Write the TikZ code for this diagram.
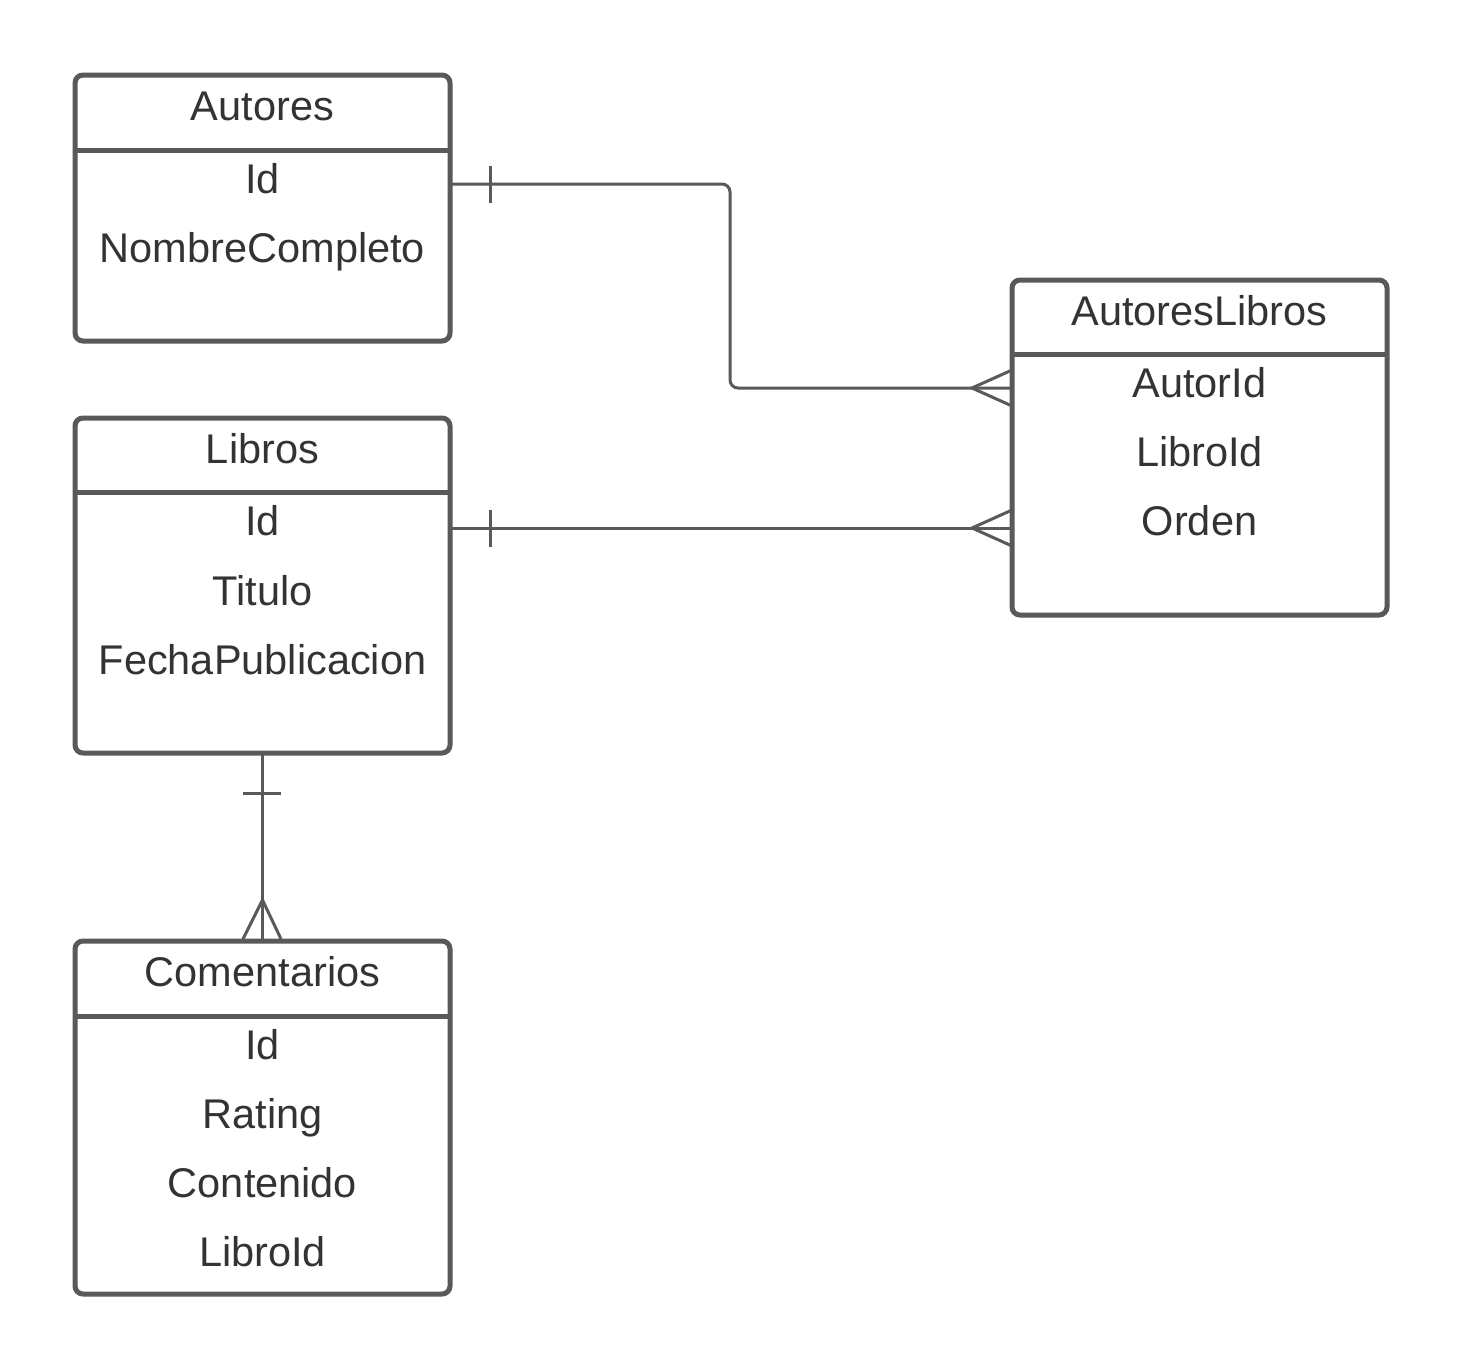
\documentclass[tikz,border=0pt]{standalone}
\usepackage{fontspec}
\setmainfont{Liberation Sans}
\definecolor{edge}{HTML}{595959}
\definecolor{txt}{HTML}{333333}
\begin{document}
\begin{tikzpicture}[x=1pt,y=-1pt,
  tbl/.style={draw=edge,line width=5pt,rounded corners=8pt,inner sep=0pt,outer sep=0pt,fill=white},
  sep/.style={draw=edge,line width=5pt},
  lbl/.style={text=txt,anchor=base,inner sep=0pt,font=\fontsize{41.5}{49}\selectfont},
  conn/.style={draw=edge,line width=3pt}]
\useasboundingbox[fill=white] (0,0) rectangle (1463,1369);
% Autores
\node[tbl,minimum width=375pt,minimum height=266pt] (autores) at (262.5,208) {};
\draw[sep] (autores.west |- 0,150) -- (autores.east |- 0,150);
\node[lbl] (autT) at (262.5,120) {Autores};
\node[lbl] (autId) at (262.5,193) {Id};
\node[lbl] (autNom) at (262.5,262) {NombreCompleto};
% Libros
\node[tbl,minimum width=375pt,minimum height=335pt] (libros) at (262.5,585.5) {};
\draw[sep] (libros.west |- 0,492) -- (libros.east |- 0,492);
\node[lbl] (libT) at (262.5,463) {Libros};
\node[lbl] (libId) at (262.5,535) {Id};
\node[lbl] (libTit) at (262.5,605) {Titulo};
\node[lbl] (libFec) at (262.5,674) {FechaPublicacion};
% AutoresLibros
\node[tbl,minimum width=375pt,minimum height=335pt] (al) at (1199.5,447.5) {};
\draw[sep] (al.west |- 0,354) -- (al.east |- 0,354);
\node[lbl] (alT) at (1199.5,325) {AutoresLibros};
\node[lbl] (alAut) at (1199.5,397) {AutorId};
\node[lbl] (alLib) at (1199.5,466) {LibroId};
\node[lbl] (alOrd) at (1199.5,535) {Orden};
% Comentarios
\node[tbl,minimum width=375pt,minimum height=353pt] (com) at (262.5,1117.5) {};
\draw[sep] (com.west |- 0,1016) -- (com.east |- 0,1016);
\node[lbl] (comT) at (262.5,986) {Comentarios};
\node[lbl] (comId) at (262.5,1059) {Id};
\node[lbl] (comRat) at (262.5,1128) {Rating};
\node[lbl] (comCon) at (262.5,1197) {Contenido};
\node[lbl] (comLib) at (262.5,1266) {LibroId};
% connector Autores -> AutoresLibros
\coordinate (bend) at (730,300);
\draw[conn,rounded corners=8pt] (autores.east |- 0,184) -- (bend |- 0,184) -- (bend |- 0,388) -- (al.west |- 0,388);
\draw[conn] (490,166) -- (490,203);
\draw[conn] (al.west |- 0,370) -- (972,388) -- (al.west |- 0,406);
% connector Libros -> AutoresLibros
\draw[conn] (libros.east |- 0,528) -- (al.west |- 0,528);
\draw[conn] (490,510) -- (490,547);
\draw[conn] (al.west |- 0,510) -- (972,528) -- (al.west |- 0,546);
% connector Libros -> Comentarios
\draw[conn] (libros.south) -- (com.north);
\draw[conn] (243,793) -- (281,793);
\draw[conn] (243,939) -- (262.5,900) -- (281,939);
\end{tikzpicture}
\end{document}
